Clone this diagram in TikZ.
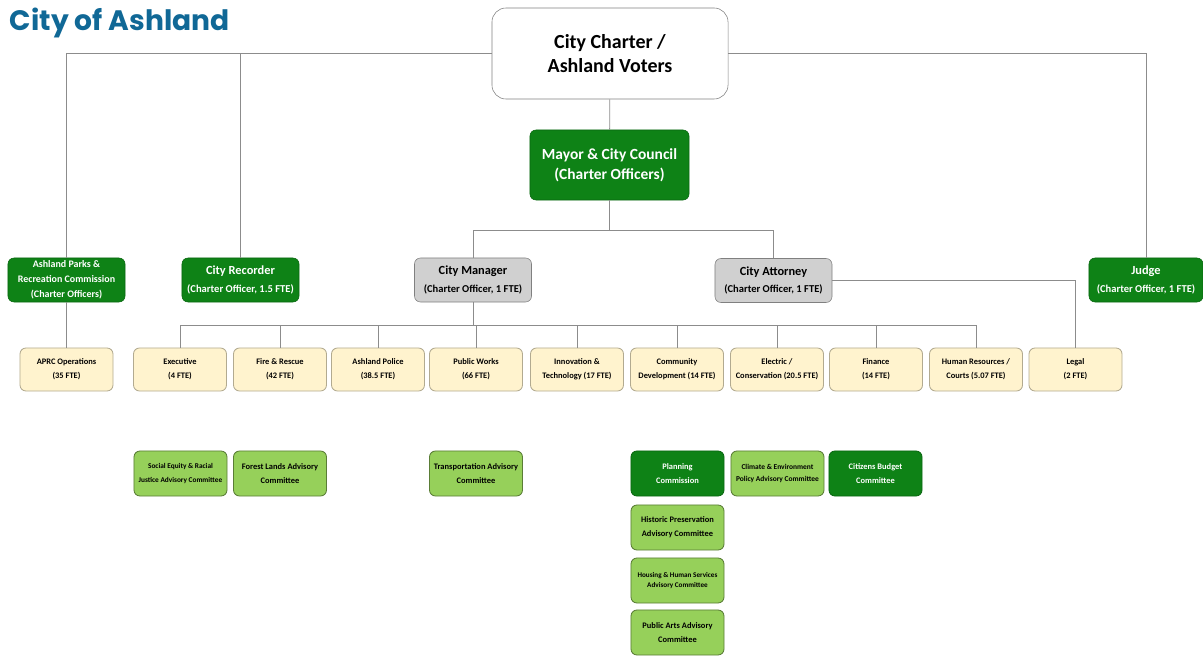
\documentclass[tikz,border=0pt]{standalone}
\usepackage{fontspec}
\setmainfont{Carlito}
\newfontfamily\titlefont{Poppins}
\definecolor{ashblue}{RGB}{16,104,150}
\definecolor{ashgreen}{RGB}{14,130,22}
\definecolor{ashlime}{RGB}{150,208,90}
\definecolor{ashcream}{RGB}{255,243,206}
\definecolor{ashgray}{RGB}{208,208,208}
\definecolor{linkgray}{RGB}{140,140,140}
\newcommand{\headline}[1]{{\fontsize{8.8}{12}\selectfont #1}}
\tikzset{
  orgbox/.style={draw, rounded corners=0.15cm, align=center, inner sep=1pt,
                 font=\bfseries},
  chiefbox/.style={orgbox, fill=ashgreen, draw=ashgreen!80!black, text=white,
                   minimum width=2.925cm, minimum height=1.1cm,
                   font=\bfseries\fontsize{7.5}{12.5}\selectfont},
  mgrbox/.style={orgbox, fill=ashgray, draw=gray, minimum width=2.925cm,
                 minimum height=1.1cm, font=\bfseries\fontsize{7.5}{12.5}\selectfont},
  deptbox/.style={orgbox, fill=ashcream, draw=ashcream!70!black, line width=0.6pt,
                  minimum width=2.325cm, minimum height=1.075cm,
                  font=\bfseries\fontsize{6}{10}\selectfont},
  advbox/.style={orgbox, fill=ashlime, draw=ashlime!60!black, line width=0.6pt,
                 minimum width=2.325cm, minimum height=1.125cm,
                 font=\bfseries\fontsize{6}{10}\selectfont},
  cmsbox/.style={advbox, fill=ashgreen, draw=ashgreen!80!black, text=white},
  link/.style={draw=linkgray, line width=0.6pt}
}
\begin{document}
\begin{tikzpicture}[x=0.025cm, y=-0.025cm]
   \useasboundingbox (0,0) rectangle (1203,656);
   \node[anchor=base west, text=ashblue, font=\titlefont\bfseries\fontsize{20}{24}\selectfont]
     (title) at (5,31) {City of Ashland};
   % charter and council
   \node[orgbox, fill=white, draw=gray, rounded corners=0.35cm,
         minimum width=5.9cm, minimum height=2.275cm,
         font=\bfseries\fontsize{14.2}{17}\selectfont]
     (charter) at (610,53.5) {City Charter /\\Ashland Voters};
   \node[chiefbox, minimum width=3.975cm, minimum height=1.75cm,
         font=\bfseries\fontsize{11}{14}\selectfont]
     (mayor) at (609.5,165) {Mayor \& City Council\\(Charter Officers)};
   % charter officers
   \node[chiefbox, font=\bfseries\fontsize{7.1}{10.6}\selectfont]
     (parks) at (66.5,280) {Ashland Parks \&\\Recreation Commission\\(Charter Officers)};
   \node[chiefbox] (recorder) at (240.5,280) {\headline{City Recorder}\\(Charter Officer, 1.5 FTE)};
   \node[mgrbox]   (manager)  at (473,280) {\headline{City Manager}\\(Charter Officer, 1 FTE)};
   \node[mgrbox]   (attorney) at (773.5,280.5) {\headline{City Attorney}\\(Charter Officer, 1 FTE)};
   \node[chiefbox, minimum width=2.85cm]
     (judge) at (1146,280) {\headline{Judge}\\(Charter Officer, 1 FTE)};
   % departments
   \node[deptbox] (aprc)    at (66.5,369.5) {APRC Operations\\(35 FTE)};
   \node[deptbox] (exec)    at (180,369.5) {Executive\\(4 FTE)};
   \node[deptbox] (fire)    at (280,369.5) {Fire \& Rescue\\(42 FTE)};
   \node[deptbox] (police)  at (378,369.5) {Ashland Police\\(38.5 FTE)};
   \node[deptbox] (works)   at (476,369.5) {Public Works\\(66 FTE)};
   \node[deptbox] (innov)   at (577,369.5) {Innovation \&\\Technology (17 FTE)};
   \node[deptbox] (commdev) at (677,369.5) {Community\\Development (14 FTE)};
   \node[deptbox] (elec)    at (777,369.5) {Electric /\\Conservation (20.5 FTE)};
   \node[deptbox] (fin)     at (876,369.5) {Finance\\(14 FTE)};
   \node[deptbox] (hr)      at (976,369.5) {Human Resources /\\Courts (5.07 FTE)};
   \node[deptbox] (legal)   at (1075.5,369.5) {Legal\\(2 FTE)};
   % commissions and committees
   \node[advbox, font=\bfseries\fontsize{5.2}{10}\selectfont]
     (equity) at (180.5,473.5) {Social Equity \& Racial\\Justice Advisory Committee};
   \node[advbox] (forest)    at (280,473.5) {Forest Lands Advisory\\Committee};
   \node[advbox] (transport) at (476,473.5) {Transportation Advisory\\Committee};
   \node[cmsbox] (planning)  at (677.5,473.5) {Planning\\Commission};
   \node[advbox, font=\bfseries\fontsize{5.3}{8}\selectfont]
     (climate) at (777.5,473.5) {Climate \& Environment\\Policy Advisory Committee};
   \node[cmsbox] (budget)    at (875.5,473.5) {Citizens Budget\\Committee};
   \node[advbox] (historic)  at (677.5,527.5) {Historic Preservation\\Advisory Committee};
   \node[advbox, font=\bfseries\fontsize{5.1}{7}\selectfont]
     (housing) at (677.5,580.5) {Housing \& Human Services\\Advisory Committee};
   \node[advbox] (arts)      at (677.5,632.5) {Public Arts Advisory\\Committee};
   % connectors
   \coordinate (split) at (609.5,230);
   \coordinate (bus) at (473,325);
   \draw[link] (charter.west) -| (parks.north);
   \draw[link] (charter.west) -| (recorder.north);
   \draw[link] (charter.east) -| (judge.north);
   \draw[link] (charter) -- (mayor);
   \draw[link] (mayor.south) -- (split) -| (manager.north);
   \draw[link] (split) -| (attorney.north);
   \draw[link] (parks) -- (aprc);
   \draw[link] (attorney.east) -| (legal.north);
   \draw[link] (manager.south) -- (bus);
   \foreach \d in {exec,fire,police,works,innov,commdev,elec,fin,hr}
     \draw[link] (bus) -| (\d.north);
\end{tikzpicture}
\end{document}
